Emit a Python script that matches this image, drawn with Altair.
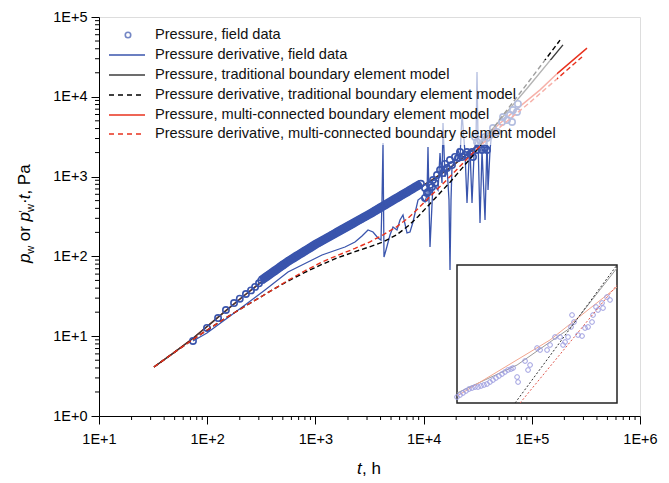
import altair as alt
import pandas as pd

FONT = "Liberation Sans"
BLUE = "#3a55ad"
RED = "#e8321e"
DARK = "#3c3c3c"

# ---------------- data (t in h, p in Pa) ----------------
# Pressure, field data (circles)
field_t = [73.9, 99.5, 126, 149, 177, 200, 228, 254, 277, 301,
           316, 335, 355, 376, 398, 422, 447, 473, 501, 531, 562, 596, 631, 668, 708, 750, 794, 841, 891, 944,
           1000, 1059, 1122, 1189, 1259, 1334, 1413, 1496, 1585, 1679, 1778, 1884, 1995, 2113, 2239, 2371,
           2512, 2661, 2818, 2985, 3162, 3350, 3548, 3758, 3981, 4217, 4467, 4732, 5012, 5309, 5623, 5957,
           6310, 6683, 7079, 7499, 7943, 8414, 8913, 9441,
           10300, 10750, 10300, 11460, 10990, 11960, 12220, 12750, 13300, 14190, 15110, 15770, 16450, 17530,
           18290, 19490, 20780, 21680, 22620, 24140, 25180, 26850, 28010, 28620, 31180, 34660, 36930, 38520,
           31180, 33240, 29860, 35420, 36930, 38520, 41070, 43780, 47670, 53060, 54230, 59050, 62960, 65680,
           67020, 72960, 74480]
field_p = [8.71, 12.7, 16.9, 21.3, 26.0, 29.5, 33.8, 37.5, 41.5, 46.0,
           50.1, 53.0, 56.0, 59.2, 62.5, 66.1, 69.8, 73.8, 78.0, 82.4, 87.1, 91.4, 95.9, 100.7, 105.7, 110.9,
           116.4, 122.2, 128.2, 134.6, 141.3, 147.6, 154.2, 161.1, 168.3, 175.8, 183.7, 191.9, 200.4, 209.4,
           218.8, 228.6, 238.8, 249.5, 260.6, 272.3, 284.4, 297.2, 310.5, 324.3, 338.8, 354.8, 371.5, 389.0,
           407.4, 426.6, 446.7, 467.7, 489.8, 512.9, 537.0, 562.3, 588.8, 616.6, 645.7, 676.1, 707.9, 741.3,
           776.2, 812.8,
           720, 623, 540, 785, 642, 741, 906, 831, 1047, 1210, 1109, 1439, 1282, 1614,
           1397, 1762, 1711, 2032, 1762, 1866, 2032, 1919, 2032, 1762, 2154, 2154, 2282, 2154,
           2717, 2877, 3133, 2638, 3133, 3046, 3319, 4064, 3622, 4833, 5585, 5119, 5910, 4833,
           6834, 6451, 8128]
BAND = slice(10, 70)  # the densely sampled part that merges into a band

# Pressure derivative, field data
deriv_t = [73.9, 99.5, 149.2, 223.6, 342.1, 558.2, 1151, 1877, 2323, 2696, 3063, 3407, 3789, 4040, 4127,
           4216, 4305, 4493, 4891, 5214, 5677, 6053, 6450, 7025, 7487, 7981, 8877, 9666, 10300, 10750,
           10980, 11220, 11460, 12220, 13590, 14180, 14790, 15110, 15770, 16460, 17170, 17540, 17920, 18300,
           19520, 20800, 21710, 22650, 24140, 25190, 26280, 26850, 28020, 29240, 30510, 31160, 31840, 33220,
           34670, 36960, 38560, 39390, 41110, 42900]
deriv_p = [8.71, 10.97, 16.43, 24.61, 37.93, 63.76, 104.1, 131.2, 151.5, 180.2, 214.2, 202.2, 170.1, 160.6, 509,
           2636, 98.3, 120.3, 185.4, 233.6, 214.2, 285.9, 330.3, 196.5, 202.2, 269.8, 509, 555, 481, 588,
           2349, 509, 131.2, 831, 679, 1976, 831, 4696, 989, 1319, 509, 67.5, 509, 1319,
           1614, 2154, 1711, 6266, 1976, 467, 1614, 2154, 467, 1865, 2875, 20460, 2875, 262,
           2154, 286, 2875, 679, 2154, 3837]

# Traditional boundary element model
trad_p_t = [32.2, 50, 73.9, 110, 149, 220, 301, 420, 558, 800, 1151, 1585, 2323, 3162, 4217, 5623, 7178,
            8913, 11460, 17540, 27990, 35400, 56490, 92260, 194100]
trad_p_p = [4.11, 6.31, 9.44, 14.8, 20.9, 32.4, 45.2, 63.1, 83.2, 112.2, 149.6, 190.5, 254.1, 323.6, 402.7,
            501.2, 602.6, 716.1, 871, 1288, 2138, 2884, 6026, 13180, 44670]
trad_d_t = [32.2, 50, 73.9, 110, 149, 220, 301, 420, 558, 800, 1151, 1585, 2323, 3162, 4217, 5623, 7178,
            8913, 11460, 17540, 27990, 50820, 96160, 182400]
trad_d_p = [4.11, 6.31, 9.12, 13.0, 17.0, 23.4, 30.2, 39.4, 49.0, 63.1, 79.4, 95.5, 114.8, 131.8, 151.4,
            186.2, 239.9, 316.2, 457.1, 851.1, 1778, 5248, 16220, 51290]

# Multi-connected boundary element model
multi_p_t = [32.2, 50, 73.9, 110, 149, 220, 301, 420, 558, 800, 1151, 1585, 2323, 3162, 4217, 5623, 7178,
             8913, 11460, 17540, 27990, 35400, 50000, 77800, 120000, 174700, 323700]
multi_p_p = [4.11, 6.31, 9.44, 14.8, 20.9, 32.4, 45.2, 63.1, 83.2, 112.2, 149.6, 190.5, 254.1, 323.6, 402.7,
             501.2, 602.6, 716.1, 871, 1288, 2138, 2951, 4571, 7586, 12300, 19950, 40740]
multi_d_t = [32.2, 50, 73.9, 110, 149, 220, 301, 420, 558, 800, 1151, 1585, 2323, 3162, 4217, 5623, 7178,
             8913, 11460, 17540, 26850, 50820, 96160, 174600, 291100]
multi_d_p = [4.11, 6.31, 9.12, 13.0, 17.0, 23.4, 30.2, 39.4, 50.1, 66.1, 85.1, 102.3, 125.9, 151.4, 186.2,
             234.4, 302.0, 398.1, 562.3, 1000, 1820, 4169, 8511, 17180, 31620]

# Inset (enlarged late-time view)
ins_field_t = [2951, 3141, 3342, 3556, 3784, 4027, 4285, 4560, 4852, 5163, 5494, 5846, 6221, 6620, 7044, 7496,
               7977, 8488, 9032, 9435,
               10260, 10470, 12100, 12880, 13430, 15530, 16520, 19100, 20320, 22540, 25000, 26610, 27740,
               29510, 32060, 33420, 31400, 36310, 39450, 41980, 44670, 48540, 49550, 52720, 54960, 60950,
               66220, 70470, 59700]
ins_field_p = [345, 370, 397, 426, 456, 472, 489, 489, 507, 525, 543, 582, 624, 670, 718, 769,
               826, 885, 916, 949,
               693, 582, 1211, 885, 1054, 1905, 1778, 1778, 2118, 2799, 2799, 2118, 2350,
               2799, 6026, 4721, 3969, 3000, 2897, 3828, 3969, 4721, 6026, 7980, 7178, 7691,
               11300, 10190, 9162]
ins_trad_p_t = [2951, 10260, 30780, 81470]
ins_trad_p_p = [397, 1054, 3828, 31050]
ins_multi_p_t = [2951, 20320, 81470]
ins_multi_p_p = [357, 2523, 16030]
ins_trad_d_t = [9840, 81470]
ins_trad_d_p = [280, 34510]
ins_multi_d_t = [10910, 81470]
ins_multi_d_p = [280, 17180]

legend_labels = [
    "Pressure, field data",
    "Pressure derivative, field data",
    "Pressure, traditional boundary element model",
    "Pressure derivative, traditional boundary element model",
    "Pressure, multi-connected boundary element model",
    "Pressure derivative, multi-connected boundary element model",
]

x_decades = [1, 2, 3, 4, 5, 6]
y_decades = [0, 1, 2, 3, 4, 5]


def df(t, p):
    return pd.DataFrame({"t": t, "p": p, "i": list(range(len(t)))})


# ---------------- scales / axes ----------------
W, H = 541, 399
xs = alt.Scale(type="log", domain=[10, 1e6], nice=False)
ys = alt.Scale(type="log", domain=[1, 1e5], nice=False)

x_major = [10 ** e for e in x_decades]
y_major = [10 ** e for e in y_decades]
x_minor = [m * 10 ** e for e in x_decades[:-1] for m in range(2, 10)]
y_minor = [m * 10 ** e for e in y_decades[:-1] for m in range(2, 10)]
label_expr = "'1E+' + round(log(datum.value)/LN10)"

common_axis = dict(labelExpr=label_expr, tickSize=8, title=None, grid=False,
                   labelFlush=False, labelOverlap=False, labelFont=FONT, labelFontSize=14.5,
                   labelColor="black", tickColor="black", domainColor="black", tickWidth=1, domainWidth=1)
xaxis = alt.Axis(values=x_major, labelPadding=8, **common_axis)
yaxis = alt.Axis(values=y_major, labelPadding=4, **common_axis)

X = alt.X("t:Q", scale=xs, axis=xaxis)
Y = alt.Y("p:Q", scale=ys, axis=yaxis)


def enc(chart):
    return chart.encode(x=X, y=Y, order="i:Q")


x_minor_ticks = alt.Chart(pd.DataFrame({"t": x_minor})).mark_rule(color="black", strokeWidth=1).encode(
    x=X, y=alt.value(H), y2=alt.value(H + 4))
y_minor_ticks = alt.Chart(pd.DataFrame({"p": y_minor})).mark_rule(color="black", strokeWidth=1).encode(
    y=Y, x=alt.value(-4), x2=alt.value(0))

multi_p_line = enc(alt.Chart(df(multi_p_t, multi_p_p)).mark_line(color=RED, strokeWidth=1.4))
trad_p_line = enc(alt.Chart(df(trad_p_t, trad_p_p)).mark_line(color=DARK, strokeWidth=1.4))
deriv_line = enc(alt.Chart(df(deriv_t, deriv_p)).mark_line(color=BLUE, strokeWidth=1.3))
band_line = enc(alt.Chart(df(field_t[BAND], field_p[BAND])).mark_line(color=BLUE, strokeWidth=9))
field_pts = enc(alt.Chart(df(field_t, field_p)).mark_point(shape="circle", filled=False, color=BLUE,
                                                            size=40, strokeWidth=1.6, opacity=1))
trad_d_line = enc(alt.Chart(df(trad_d_t, trad_d_p)).mark_line(color="black", strokeWidth=1.4, strokeDash=[5, 3]))
multi_d_line = enc(alt.Chart(df(multi_d_t, multi_d_p)).mark_line(color=RED, strokeWidth=1.4, strokeDash=[5, 3]))

main = alt.layer(x_minor_ticks, y_minor_ticks, multi_p_line, trad_p_line, deriv_line, band_line, field_pts,
                 trad_d_line, multi_d_line)

one = alt.Data(values=[{"a": 1}])

# faded legend background
veil = alt.Chart(one).mark_rect(color="white", opacity=0.62).encode(
    x=alt.value(6), x2=alt.value(458), y=alt.value(43), y2=alt.value(128))

# legend
leg = []
ly = [18, 38, 58, 78, 98, 117]
leg.append(alt.Chart(one).mark_point(shape="circle", filled=False, color=BLUE, size=30, strokeWidth=1.6)
           .encode(x=alt.value(29), y=alt.value(ly[0])))
styles = [(BLUE, None), (DARK, None), ("black", [5, 4]), (RED, None), (RED, [5, 4])]
for k, (c, d) in enumerate(styles):
    kw = dict(color=c, strokeWidth=1.4)
    if d:
        kw["strokeDash"] = d
    leg.append(alt.Chart(one).mark_rule(**kw).encode(
        x=alt.value(10), x2=alt.value(46), y=alt.value(ly[k + 1])))
for k, s in enumerate(legend_labels):
    leg.append(alt.Chart(one).mark_text(text=s, align="left", baseline="middle", font=FONT,
                                        fontSize=14.6, color="#111").encode(
        x=alt.value(56), y=alt.value(ly[k])))

# inset
IX0, IX1, IY0, IY1 = 358, 518, 248, 386
ixs = alt.Scale(type="log", domain=[2951, 81470], range=[IX0, IX1], nice=False)
iys = alt.Scale(type="log", domain=[280, 34510], range=[IY1, IY0], nice=False)


def ienc(chart):
    return chart.encode(
        x=alt.X("t:Q", scale=ixs, axis=None),
        y=alt.Y("p:Q", scale=iys, axis=None),
        order="i:Q",
    )


inset_box = alt.Chart(one).mark_rect(fill="white", stroke="#222", strokeWidth=1.5).encode(
    x=alt.value(IX0), x2=alt.value(IX1), y=alt.value(IY0), y2=alt.value(IY1))
inset = alt.layer(
    ienc(alt.Chart(df(ins_trad_p_t, ins_trad_p_p)).mark_line(color="#9a9a9a", strokeWidth=1)),
    ienc(alt.Chart(df(ins_multi_p_t, ins_multi_p_p)).mark_line(color="#f2a58e", strokeWidth=1)),
    ienc(alt.Chart(df(ins_field_t, ins_field_p)).mark_point(shape="circle", filled=False, color="#9d9de0",
                                                           size=22, strokeWidth=1, opacity=1)),
    ienc(alt.Chart(df(ins_trad_d_t, ins_trad_d_p)).mark_line(color="#333", strokeWidth=1, strokeDash=[2, 2])),
    ienc(alt.Chart(df(ins_multi_d_t, ins_multi_d_p)).mark_line(color="#e05a50", strokeWidth=1, strokeDash=[2, 2])),
)


def txt(s, x, y, size, style="normal", angle=0):
    return alt.Chart(one).mark_text(text=s, align="left", baseline="alphabetic", font=FONT, fontSize=size,
                                    fontStyle=style, angle=angle, color="black").encode(
        x=alt.value(x), y=alt.value(y))


# axis titles (pieces, so that italics and subscripts can be set)
titles = [
    txt("t", 258, 457, 17, "italic"),
    txt(", h", 263, 457, 17),
    txt("p", -69, 246, 17, "italic", 270),
    txt("w", -65, 236.8, 11, "normal", 270),
    txt("or", -69, 224.2, 17, "normal", 270),
    txt("p", -69, 204.4, 17, "italic", 270),
    txt("\u2032", -72, 195.6, 11, "normal", 270),
    txt("w", -65, 194.9, 11, "normal", 270),
    txt("\u00b7", -69, 187.0, 17, "normal", 270),
    txt("t", -69, 182.3, 17, "italic", 270),
    txt(", Pa", -69, 177.6, 17, "normal", 270),
]

chart = alt.layer(main, veil, *leg, inset_box, inset, *titles).resolve_scale(
    x="independent", y="independent"
).properties(
    width=W, height=H,
    autosize=alt.AutoSizeParams(type="none"),
    padding={"left": 91, "top": 9, "right": 20, "bottom": 65},
).configure_view(stroke="black", strokeWidth=1).configure(background="white")

chart.save("out.html", embed_options={"renderer": "svg", "actions": False})
